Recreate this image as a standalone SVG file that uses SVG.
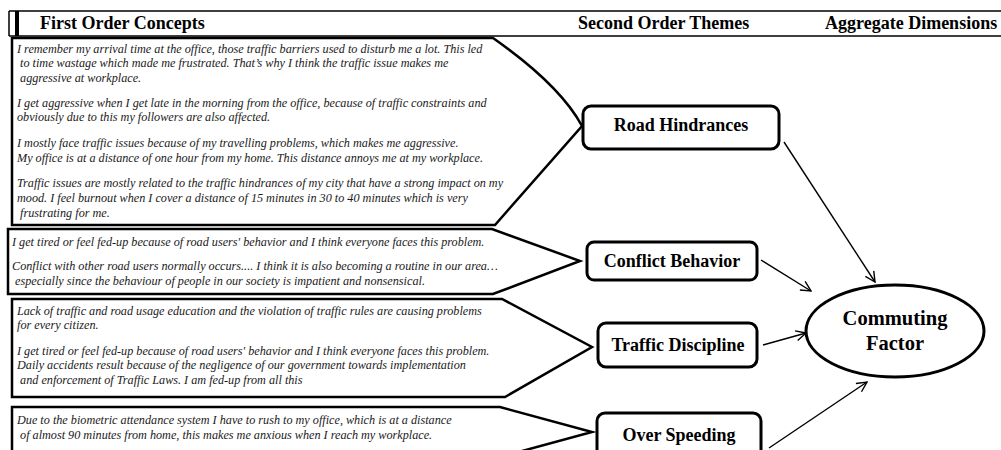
<svg xmlns="http://www.w3.org/2000/svg" width="1001" height="450" viewBox="0 0 1001 450">
<defs>
<style>
.hdr{font-family:"Liberation Serif","Times New Roman",serif;font-weight:bold;font-size:18px;fill:#000}
.quote{font-family:"Liberation Serif","Times New Roman",serif;font-style:italic;font-size:12.2px;fill:#1a1a1a}
.theme{font-family:"Liberation Serif","Times New Roman",serif;font-weight:bold;font-size:18px;fill:#000;text-anchor:middle}
.agg{font-family:"Liberation Serif","Times New Roman",serif;font-weight:bold;font-size:20.5px;fill:#000;text-anchor:middle}
.callout{fill:#fff;stroke:#000;stroke-width:2.5;stroke-linejoin:miter}
.box{fill:#fff;stroke:#000;stroke-width:3}
.conn{stroke:#000;stroke-width:1.4;fill:none;marker-end:url(#arr)}
.rule{stroke:#000;stroke-width:1.5;fill:none}
</style>
<marker id="arr" viewBox="0 0 12 12" refX="11" refY="6" markerWidth="12" markerHeight="12" markerUnits="userSpaceOnUse" orient="auto">
<path d="M1,1 L11,6 L1,11" fill="none" stroke="#000" stroke-width="1.4"/>
</marker>
</defs>
<rect width="1001" height="450" fill="#fff"/>

<g id="header">
<path class="rule" d="M9,11 H1001 M9,36 H1001 M9,11 V36"/>
<rect x="15" y="11" width="4" height="25" fill="#000"/>
<text class="hdr" x="40" y="29">First Order Concepts</text>
<text class="hdr" x="578" y="29">Second Order Themes</text>
<text class="hdr" x="825" y="29">Aggregate Dimensions</text>
</g>

<g id="concepts-road">
<path class="callout" d="M12,38 H493 Q560,85 582,126 L495,225 H12 Z"/>
<text class="quote" x="17" y="53">I remember my arrival time at the office, those traffic barriers used to disturb me a lot. This led</text>
<text class="quote" x="17" y="67" xml:space="preserve"> to time wastage which made me frustrated. That’s why I think the traffic issue makes me</text>
<text class="quote" x="17" y="82" xml:space="preserve"> aggressive at workplace.</text>
<text class="quote" x="17" y="107">I get aggressive when I get late in the morning from the office, because of traffic constraints and</text>
<text class="quote" x="17" y="121">obviously due to this my followers are also affected.</text>
<text class="quote" x="17" y="147">I mostly face traffic issues because of my travelling problems, which makes me aggressive.</text>
<text class="quote" x="17" y="162">My office is at a distance of one hour from my home. This distance annoys me at my workplace.</text>
<text class="quote" x="17" y="187">Traffic issues are mostly related to the traffic hindrances of my city that have a strong impact on my</text>
<text class="quote" x="17" y="202">mood. I feel burnout when I cover a distance of 15 minutes in 30 to 40 minutes which is very</text>
<text class="quote" x="17" y="217" xml:space="preserve"> frustrating for me.</text>
</g>

<g id="concepts-conflict">
<path class="callout" d="M8,229 H492 L580,261 L493,294 H8 Z"/>
<text class="quote" x="12" y="246">I get tired or feel fed-up because of road users' behavior and I think everyone faces this problem.</text>
<text class="quote" x="12" y="270">Conflict with other road users normally occurs.... I think it is also becoming a routine in our area…</text>
<text class="quote" x="12" y="285" xml:space="preserve"> especially since the behaviour of people in our society is impatient and nonsensical.</text>
</g>

<g id="concepts-discipline">
<path class="callout" d="M12,299 H502 L592,347 L505,397 H12 Z"/>
<text class="quote" x="17" y="315">Lack of traffic and road usage education and the violation of traffic rules are causing problems</text>
<text class="quote" x="17" y="329">for every citizen.</text>
<text class="quote" x="17" y="355">I get tired or feel fed-up because of road users' behavior and I think everyone faces this problem.</text>
<text class="quote" x="17" y="369">Daily accidents result because of the negligence of our government towards implementation</text>
<text class="quote" x="17" y="384" xml:space="preserve"> and enforcement of Traffic Laws. I am fed-up from all this</text>
</g>

<g id="concepts-speeding">
<path class="callout" d="M12,407 H500 L592,432 L500,457 H12 Z"/>
<text class="quote" x="17" y="424">Due to the biometric attendance system I have to rush to my office, which is at a distance</text>
<text class="quote" x="17" y="439" xml:space="preserve"> of almost 90 minutes from home, this makes me anxious when I reach my workplace.</text>
</g>

<g id="theme-road">
<rect class="box" x="583" y="106" width="196" height="43" rx="8"/>
<text class="theme" x="681" y="131">Road Hindrances</text>
</g>
<g id="theme-conflict">
<rect class="box" x="587" y="242" width="170" height="38" rx="7"/>
<text class="theme" x="672" y="267">Conflict Behavior</text>
</g>
<g id="theme-discipline">
<rect class="box" x="598" y="323" width="159" height="44" rx="8"/>
<text class="theme" x="678" y="351">Traffic Discipline</text>
</g>
<g id="theme-speeding">
<rect class="box" x="597" y="413" width="164" height="46" rx="8"/>
<text class="theme" x="679" y="441">Over Speeding</text>
</g>

<g id="dimension-commuting">
<ellipse class="box" cx="895" cy="331" rx="89" ry="46"/>
<text class="agg" x="895" y="325">Commuting</text>
<text class="agg" x="895" y="350">Factor</text>
</g>

<g id="connectors">
<line class="conn" x1="784" y1="142" x2="875" y2="282"/>
<line class="conn" x1="761" y1="260" x2="811" y2="291"/>
<line class="conn" x1="763" y1="345" x2="806" y2="333"/>
<line class="conn" x1="769" y1="448" x2="867" y2="382"/>
</g>
</svg>
